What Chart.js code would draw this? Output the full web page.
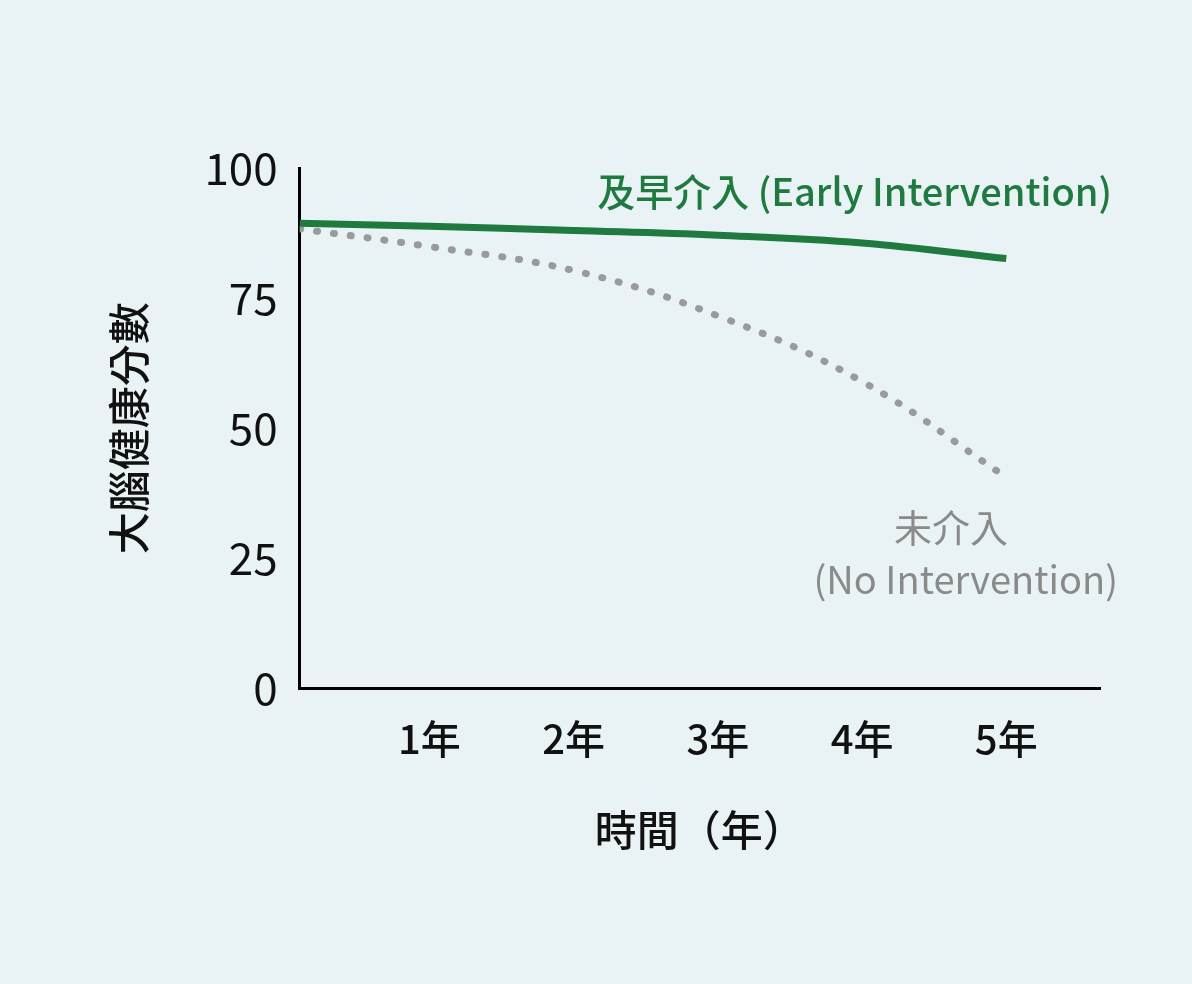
<!DOCTYPE html>
<html><head><meta charset="utf-8">
<script src="https://cdn.jsdelivr.net/npm/chart.js@4"></script>
<style>html,body{margin:0;background:#e9f3f5;}#w{width:1192px;height:984px;}</style>
</head><body><div id="w"><canvas id="c"></canvas></div>
<script>
const xValues=[0.1,1,2,3,4,5];
const earlyValues=[89.4,88.8,88.0,87.1,85.6,82.6];
const noneValues=[88.3,84.9,80.3,71.6,59.0,40.6];
const xTickLabels={1:'1年',2:'2年',3:'3年',4:'4年',5:'5年'};
const yTicks=[0,25,50,75,100];
const F='"Noto Sans CJK TC","Noto Sans",sans-serif';
const labels={id:'lbl',afterDraw(ch){const c=ch.ctx;c.save();c.textAlign='right';c.textBaseline='middle';
c.font='500 38px '+F;c.fillStyle='#1e7a3e';c.fillText('及早介入 (Early Intervention)',1112,192);
c.fillStyle='#8a8a8a';c.font='38px '+F;c.fillText('未介入',1008,528);c.fillText('(No Intervention)',1118,580);c.restore();}};
new Chart(document.getElementById('c'),{type:'scatter',
data:{datasets:[
{data:xValues.map((x,i)=>({x,y:earlyValues[i]})),showLine:true,borderColor:'#1e7a3e',borderWidth:7,pointRadius:0,tension:0.4},
{data:xValues.map((x,i)=>({x,y:noneValues[i]})),showLine:true,borderColor:'#9a9a9a',borderWidth:7,borderDash:[1,16],borderCapStyle:'round',pointRadius:0,tension:0.4}]},
options:{responsive:true,maintainAspectRatio:false,animation:false,
layout:{padding:{left:100,right:92,top:168,bottom:125}},
plugins:{legend:{display:false},tooltip:{enabled:false}},
scales:{
x:{type:'linear',min:0.1,max:5.65,afterBuildTicks(a){a.ticks=[1,2,3,4,5].map(v=>({value:v}));},
grid:{display:false,drawTicks:false},border:{color:'#000',width:3},
ticks:{padding:26,color:'#111',font:{family:F,size:40,weight:'500'},callback:v=>xTickLabels[v]||''},
title:{display:true,text:'時間（年）',color:'#111',font:{family:F,size:42,weight:'500'},padding:{top:16}}},
y:{min:0,max:100,afterBuildTicks(a){a.ticks=yTicks.map(v=>({value:v}));},
grid:{display:false,drawTicks:false},border:{color:'#000',width:3},
ticks:{padding:22,color:'#111',font:{family:F,size:44},},
title:{display:true,text:'大腦健康分數',color:'#111',font:{family:F,size:42,weight:'500'},padding:{bottom:28}}}}},
plugins:[labels]});
</script></body></html>
